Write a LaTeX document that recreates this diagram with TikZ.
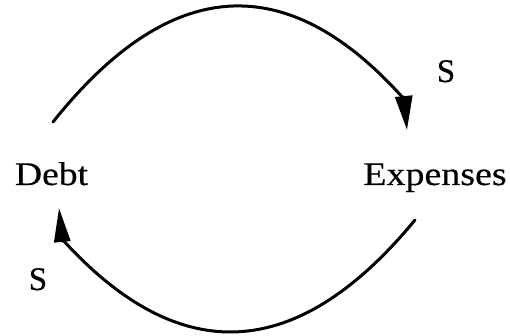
\documentclass[tikz,border=0pt]{standalone}
\usepackage{fontspec}
\setmainfont{Liberation Serif}[FakeBold=0.4]
\usetikzlibrary{arrows.meta}
\begin{document}
\begin{tikzpicture}[x=1pt,y=1pt,
  lbl/.style={inner sep=0pt,anchor=base,font=\fontsize{33}{36}\selectfont},
  loop/.style={line width=3pt,line cap=round},
  tipA/.style={-{Triangle[length=34pt,width=17pt]}},
  tipB/.style={-{Triangle[length=34pt,width=16pt]}}]
\useasboundingbox (0,0) rectangle (510,336);
\node[lbl] (debt) at (51.5,151) {\scalebox{1.14}[1]{Debt}};
\node[lbl] (exp) at (435,151) {\scalebox{1.15}[1]{Expenses}};
\node[lbl] (s1) at (446,254) {S};
\node[lbl] (s2) at (38,46) {S};
\coordinate (a0) at (53,214);
\coordinate (a1) at (404,237);
\coordinate (atip) at (407,206);
\coordinate (b0) at (415,116);
\coordinate (b1) at (62,97);
\coordinate (btip) at (59,128);
\draw[loop,tipA] (a0) .. controls (170,360.7) and (287,368.3) .. (a1) -- (atip);
\draw[loop,tipB] (b0) .. controls (297.3,-26.7) and (179.7,-33) .. (b1) -- (btip);
\end{tikzpicture}
\end{document}
